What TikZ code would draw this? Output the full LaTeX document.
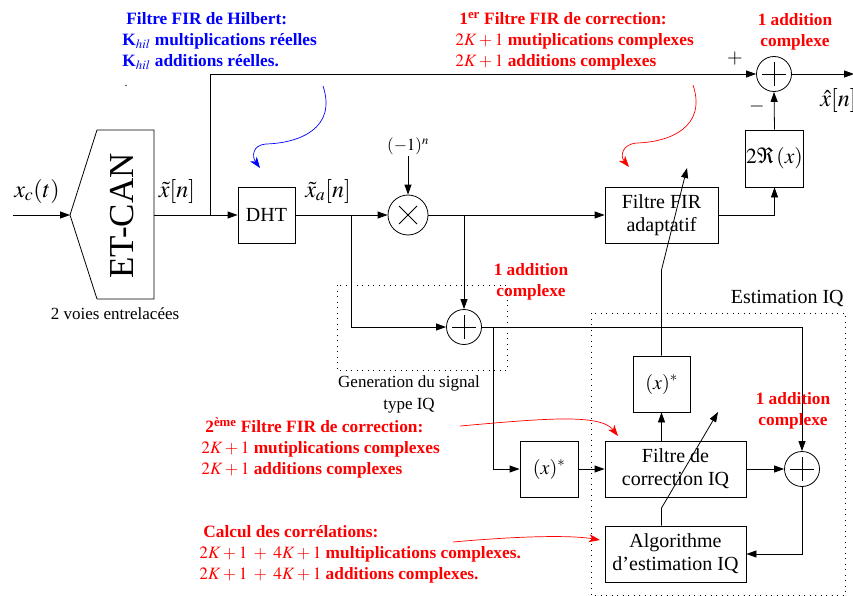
\documentclass[tikz,border=0pt]{standalone}
\usepackage{mathptmx}
\usepackage{fontspec}
\setmainfont{Liberation Serif}
\usetikzlibrary{arrows.meta,calc}
\begin{document}
\begin{tikzpicture}[x=1pt,y=-1pt, line width=0.8pt,
  >={Triangle[length=10pt,width=7pt]},
  box/.style={draw, inner sep=1pt, align=center, font=\fontsize{20}{23}\selectfont},
  lbl/.style={inner sep=1pt, font=\fontsize{20}{23}\selectfont},
  mlbl/.style={inner sep=1pt, font=\fontsize{24}{26}\selectfont},
  small/.style={inner sep=1pt, align=center, font=\fontsize{17}{22}\selectfont},
  sumnode/.style={circle, draw, minimum size=35pt, inner sep=0pt,
    path picture={\draw ([xshift=-12pt]path picture bounding box.center) -- ([xshift=12pt]path picture bounding box.center)
      ([yshift=-12pt]path picture bounding box.center) -- ([yshift=12pt]path picture bounding box.center);}},
  multnode/.style={circle, draw, minimum size=40pt, inner sep=0pt,
    path picture={\draw ([shift={(-9pt,-9pt)}]path picture bounding box.center) -- ([shift={(9pt,9pt)}]path picture bounding box.center)
      ([shift={(-9pt,9pt)}]path picture bounding box.center) -- ([shift={(9pt,-9pt)}]path picture bounding box.center);}},
  dotbox/.style={draw, line width=0.8pt, dash pattern=on 1pt off 4.5pt},
  ann/.style={text=red, inner sep=0pt, align=left, font=\bfseries\fontsize{17.3}{21}\selectfont},
  annc/.style={ann, align=center},
  hil/.style={text=blue, inner sep=0pt, align=left, font=\bfseries\fontsize{17.3}{21}\selectfont},
  redarrow/.style={draw=red, line width=0.7pt, -{Stealth[length=11pt,width=8pt,inset=3pt]}, fill=none},
  bluearrow/.style={draw=blue, line width=0.7pt, -{Stealth[length=11pt,width=8pt,inset=3pt]}, fill=none}
]
\useasboundingbox (0,0) rectangle (853,596);

% ET-CAN converter
\coordinate (in) at (13,215);
\coordinate (et) at (70,215);
\coordinate (etout) at (154,215);
\draw (70,215) -- (97,130) -- (154,130) -- (154,299) -- (97,299) -- cycle;
\node[rotate=90, inner sep=0pt, font=\fontsize{35}{40}\selectfont] (etlabel) at (122,216) {ET-CAN};
\node[small] (voies) at (115,314) {2 voies entrelacées};
\node[mlbl] (xc) at (37,191) {$x_c(t)$};
\node[mlbl] (xt) at (177,191) {$\tilde{x}[n]$};

% blocks
\node[box, minimum width=57pt, minimum height=56pt] (dht) at (266.5,215) {DHT};
\node[mlbl] (xa) at (328,191) {$\tilde{x}_a[n]$};
\node[multnode] (m) at (408,215) {};
\node[inner sep=1pt, font=\fontsize{17}{20}\selectfont] (pow) at (408,146) {$(-1)^n$};
\node[box, minimum width=113pt, minimum height=56pt] (fir) at (661.5,215) {Filtre FIR\\adaptatif};
\node[box, minimum width=57pt, minimum height=57pt, font=\fontsize{21.5}{23}\selectfont] (re) at (774.5,158.5) {$2\Re\left(x\right)$};
\node[sumnode] (s1) at (774,74) {};
\node[lbl] (plus) at (735,59) {$+$};
\node[lbl] (minus) at (757,107) {$-$};
\node[mlbl, anchor=west] (xh) at (819,101) {$\hat{x}[n]$};

\node[sumnode] (g) at (464,327) {};
\node[small] (gen) at (409,394) {Generation du signal\\type IQ};

\node[box, minimum width=58pt, minimum height=56pt] (cj1) at (549,469) {$(x)^*$};
\node[box, minimum width=141pt, minimum height=56pt] (corr) at (675.5,469) {Filtre de\\correction IQ};
\node[sumnode] (s2) at (802,469) {};
\node[box, minimum width=141pt, minimum height=56pt] (alg) at (675.5,554) {Algorithme\\d'estimation IQ};
\node[box, minimum width=57pt, minimum height=56pt] (cj2) at (661.5,384) {$(x)^*$};
\node[lbl, anchor=east] (estlbl) at (845,298) {Estimation IQ};

% dotted groups
\draw[dotbox] (337,285) rectangle (507,370);
\draw[dotbox] (591,313) rectangle (845,595);

% connectors
\coordinate (b1) at (210,215);
\coordinate (b2) at (351,215);
\coordinate (b3) at (464,215);
\coordinate (b4) at (493,327);
\coordinate (k1) at (661.5,270);
\coordinate (t1) at (687,168);
\coordinate (k2) at (661.5,508);
\coordinate (t2) at (718,412);
\coordinate (out) at (854,74);

\draw[->] (in) -- (et);
\draw[->] (etout) -- (dht.west);
\draw[->] (b1) |- (s1.west);
\draw[->] (dht.east) -- (m.west);
\draw[->] (pow.south) -- (m.north);
\draw[->] (b2) |- (g.west);
\draw[->] (m.east) -- (fir.west);
\draw[->] (b3) -- (g.north);
\draw[->] (g.east) -| (s2.north);
\draw[->] (b4) |- (cj1.west);
\draw[->] (cj1.east) -- (corr.west);
\draw[->] (corr.east) -- (s2.west);
\draw[->] (s2.south) |- (alg.east);
\draw[->] (cj2.south |- corr.north) -- (cj2.south);
\draw[->] (cj2.north) -- (k1) -- (t1);
\draw[->] (alg.north -| k2) -- (k2) -- (t2);
\draw[->] (fir.east) -| (re.south);
\draw[->] (re.north) -- (s1.south);
\draw[->] (s1.east) -- (out);

% annotations
\node[hil, anchor=west] (hilb) at (122,41) {\hspace{4pt}Filtre FIR de Hilbert:\\K$_{hil}$ multiplications réelles\\K$_{hil}$ additions réelles.};
\node[inner sep=0pt, font=\fontsize{12}{12}\selectfont] (dot) at (126,86) {.};
\node[ann, anchor=west] (c1) at (455,41) {\hspace{4pt}1\textsuperscript{er} Filtre FIR de correction:\\$2K+1$ mutiplications complexes\\$2K+1$ additions complexes};
\node[annc] (a1) at (795,32) {1 addition\\complexe};
\node[annc] (a2) at (531,282) {1 addition\\complexe};
\node[annc] (a3) at (793,411) {1 addition\\complexe};
\node[ann, anchor=west] (c2) at (201,448) {\hspace{4pt}2\textsuperscript{ème} Filtre FIR de correction:\\$2K+1$ mutiplications complexes\\$2K+1$ additions complexes};
\node[ann, anchor=west] (cc) at (199,554) {\hspace{4pt}Calcul des corrélations:\\$2K+1\;+\;4K+1$ multiplications complexes.\\$2K+1\;+\;4K+1$ additions complexes.};

% annotation arrows
\coordinate (hs) at (323,86);
\coordinate (he) at (260,168);
\draw[bluearrow] (hs) .. controls (337,128) and (300,143) .. (266,144) .. controls (252,145) and (252,157) .. (he);
\coordinate (r1s) at (693,85);
\coordinate (r1e) at (629,167);
\draw[redarrow] (r1s) .. controls (707,127) and (670,142) .. (637,143) .. controls (622,144) and (620,156) .. (r1e);
\coordinate (r2s) at (460,426);
\coordinate (r2e) at (618,436);
\draw[redarrow] (r2s) .. controls (540,419) and (600,413) .. (r2e);
\coordinate (r3s) at (453,542);
\coordinate (r3e) at (600,540);
\draw[redarrow] (r3s) .. controls (520,536) and (570,535) .. (r3e);
\end{tikzpicture}
\end{document}
